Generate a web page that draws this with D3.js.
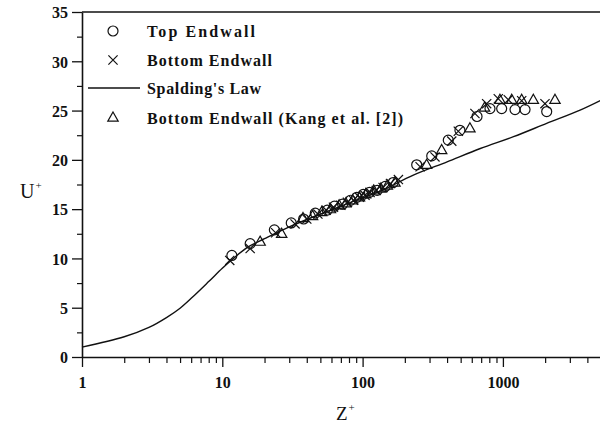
<!DOCTYPE html>
<html><head><meta charset="utf-8">
<script src="https://cdn.jsdelivr.net/npm/d3@7"></script>
<style>
html,body{margin:0;padding:0;background:#fff;}
svg{display:block;}
text{font-family:"Liberation Serif","Times New Roman",serif;fill:#111;}
</style></head>
<body>
<svg id="chart" width="600" height="425"></svg>
<script>
// ---- data ----
const topZ = [11.7, 15.8, 23.5, 31, 38, 46, 56, 63, 72, 82, 91, 101, 112, 127, 145, 165, 243, 311, 408, 494, 654, 809, 980, 1220, 1438, 2052];
const topU = [10.3, 11.5, 12.9, 13.6, 14.0, 14.6, 14.9, 15.3, 15.5, 15.9, 16.2, 16.5, 16.7, 16.9, 17.3, 17.7, 19.5, 20.4, 22.0, 23.0, 24.4, 25.2, 25.2, 25.1, 25.1, 24.9];

const bottomZ = [11.3, 15.8, 24, 33, 40, 48, 55, 62, 70, 78, 86, 95, 104, 113, 125, 140, 158, 180, 257, 328, 432, 481, 632, 766, 927, 1093, 1361, 1995];
const bottomU = [9.8, 11.0, 12.6, 13.5, 14.0, 14.5, 14.9, 15.2, 15.4, 15.7, 15.9, 16.2, 16.4, 16.7, 16.9, 17.2, 17.6, 18.0, 19.3, 20.3, 21.9, 22.9, 24.7, 25.7, 26.2, 26.1, 26.0, 25.7];

const kangZ = [18.6, 26.5, 37.6, 44, 51, 59, 68, 76, 85, 95, 105, 120, 135, 150, 170, 286, 366, 582, 740, 953, 1156, 1361, 1648, 2351];
const kangU = [11.7, 12.5, 14.1, 14.3, 14.7, 15.0, 15.4, 15.6, 15.9, 16.2, 16.5, 16.9, 17.1, 17.4, 17.7, 19.5, 21.0, 23.2, 25.3, 26.1, 26.1, 26.1, 26.1, 26.1];

const spaldingZ = [1, 2, 3, 4, 5, 6, 8, 10, 12, 15, 20, 30, 50, 100, 133, 230, 400, 690, 1190, 2050, 3550, 5000];
const spaldingU = [1.0, 2.05, 3.0, 4.0, 4.95, 5.95, 7.65, 9.0, 10.0, 11.1, 12.0, 13.2, 14.5, 16.15, 16.8, 18.45, 19.8, 21.15, 22.35, 23.7, 25.05, 26.05];

const yTicks = [0, 5, 10, 15, 20, 25, 30, 35];
const yMinorTicks = [2.5, 7.5, 12.5, 17.5, 22.5, 27.5, 32.5];
const xTicks = [1, 10, 100, 1000];
const xMinorTicks = [2,3,4,5,6,7,8,9,20,30,40,50,60,70,80,90,200,300,400,500,600,700,800,900,2000,3000,4000,5000];

const legendLabels = ["Top Endwall", "Bottom Endwall", "Spalding's Law", "Bottom Endwall (Kang et al. [2])"];

// ---- drawing ----
const svg = d3.select("#chart");
const x = d3.scaleLog().domain([1, 5000]).range([82, 82 + 140.3 * Math.log10(5000)]);
const y = d3.scaleLinear().domain([0, 35]).range([357, 12]);

const ink = "#111";

// y axis
const yAxis = svg.append("g").attr("transform", "translate(82,0)")
  .call(d3.axisLeft(y).tickValues(yTicks).tickSize(10).tickPadding(4).tickSizeOuter(0));
yAxis.select(".domain").attr("stroke", ink).attr("stroke-width", 1.6);
yAxis.selectAll(".tick line").attr("stroke", ink).attr("stroke-width", 1.3);
yAxis.selectAll(".tick text").attr("font-size", 16).attr("font-weight", "bold")
  .attr("font-family", "Liberation Serif, serif").attr("fill", ink).attr("dy", "0.36em");
svg.append("g").attr("transform", "translate(82,0)")
  .call(d3.axisLeft(y).tickValues(yMinorTicks).tickSize(5).tickFormat("").tickSizeOuter(0))
  .call(g => g.select(".domain").remove())
  .selectAll(".tick line").attr("stroke", ink).attr("stroke-width", 1.2);

// x axis
const xAxis = svg.append("g").attr("transform", "translate(0,357)")
  .call(d3.axisBottom(x).tickValues(xTicks).tickFormat(d3.format("d")).tickSize(10).tickPadding(10).tickSizeOuter(0));
xAxis.select(".domain").attr("stroke", ink).attr("stroke-width", 1.6);
xAxis.selectAll(".tick line").attr("stroke", ink).attr("stroke-width", 1.3);
xAxis.selectAll(".tick text").attr("font-size", 16).attr("font-weight", "bold")
  .attr("font-family", "Liberation Serif, serif").attr("fill", ink);
svg.append("g").attr("transform", "translate(0,357)")
  .call(d3.axisBottom(x).tickValues(xMinorTicks).tickSize(6).tickFormat("").tickSizeOuter(0))
  .call(g => g.select(".domain").remove())
  .selectAll(".tick line").attr("stroke", ink).attr("stroke-width", 1.2);

// top frame line
svg.append("line").attr("x1", x(1)).attr("x2", 600).attr("y1", y(35)).attr("y2", y(35))
  .attr("stroke", ink).attr("stroke-width", 1.4);

// axis titles
const ylab = svg.append("text").attr("x", 20).attr("y", 198).attr("font-size", 20);
ylab.append("tspan").text("U");
ylab.append("tspan").attr("font-size", 11).attr("dy", -9).attr("dx", 1).text("+");
const xlab = svg.append("text").attr("x", 336).attr("y", 420).attr("font-size", 19);
xlab.append("tspan").text("Z");
xlab.append("tspan").attr("font-size", 11).attr("dy", -9).attr("dx", 1).text("+");

// Spalding's law line
const spalding = spaldingZ.map((z, i) => [z, spaldingU[i]]);
svg.append("path").datum(spalding)
  .attr("d", d3.line().x(d => x(d[0])).y(d => y(d[1])).curve(d3.curveCatmullRom.alpha(0.5)))
  .attr("fill", "none").attr("stroke", ink).attr("stroke-width", 1.4);

// markers
function drawCircles(g, pts) {
  g.selectAll("circle").data(pts).join("circle")
    .attr("cx", d => d[0]).attr("cy", d => d[1]).attr("r", 5)
    .attr("fill", "none").attr("stroke", ink).attr("stroke-width", 1.2);
}
function drawCrosses(g, pts) {
  const s = 4.6;
  g.selectAll("path").data(pts).join("path")
    .attr("d", d => `M${d[0]-s},${d[1]-s}L${d[0]+s},${d[1]+s}M${d[0]-s},${d[1]+s}L${d[0]+s},${d[1]-s}`)
    .attr("fill", "none").attr("stroke", ink).attr("stroke-width", 1.2);
}
function drawTriangles(g, pts) {
  g.selectAll("path").data(pts).join("path")
    .attr("d", d => `M${d[0]},${d[1]-5.5}L${d[0]+5.2},${d[1]+3.6}L${d[0]-5.2},${d[1]+3.6}Z`)
    .attr("fill", "none").attr("stroke", ink).attr("stroke-width", 1.2);
}
drawCircles(svg.append("g"), topZ.map((z, i) => [x(z), y(topU[i])]));
drawCrosses(svg.append("g"), bottomZ.map((z, i) => [x(z), y(bottomU[i])]));
drawTriangles(svg.append("g"), kangZ.map((z, i) => [x(z), y(kangU[i])]));

// legend
const legY = [31, 60, 88, 117.5];
const legW = [108, 125, 114, 256];
const leg = svg.append("g");
drawCircles(leg.append("g"), [[113, legY[0]]]);
drawCrosses(leg.append("g"), [[113, legY[1]]]);
leg.append("line").attr("x1", 88).attr("x2", 140).attr("y1", legY[2]).attr("y2", legY[2])
  .attr("stroke", ink).attr("stroke-width", 1.3);
drawTriangles(leg.append("g"), [[113, legY[3]]]);
legendLabels.forEach((t, i) => {
  leg.append("text").attr("x", 147).attr("y", legY[i] + 6).attr("font-size", 16)
    .attr("font-weight", "bold").attr("textLength", legW[i]).attr("lengthAdjust", "spacing")
    .text(t);
});
</script>
</body></html>
